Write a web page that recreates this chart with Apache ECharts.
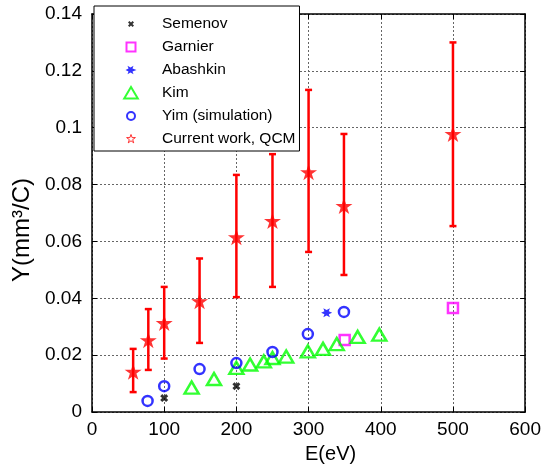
<!DOCTYPE html>
<html><head><meta charset="utf-8">
<script src="https://cdn.jsdelivr.net/npm/echarts@6/dist/echarts.min.js"></script>
<style>html,body{margin:0;padding:0;background:#fff}#c{width:544px;height:469px}</style>
</head><body><div id="c"></div>
<script>
// ---- data ----
const xTicks = [0, 100, 200, 300, 400, 500, 600];
const yTicks = [0, 0.02, 0.04, 0.06, 0.08, 0.1, 0.12, 0.14];

const semenovE = [100, 200];
const semenovY = [0.0049, 0.0091];

const garnierE = [350, 500];
const garnierY = [0.0253, 0.0366];

const abashkinE = [325];
const abashkinY = [0.0349];

const kimE = [138, 169, 200, 219, 238, 250, 269, 299, 320, 339, 368, 398];
const kimY = [0.0086, 0.0116, 0.0155, 0.0167, 0.0178, 0.0190, 0.0195, 0.0213, 0.0222, 0.0239, 0.0264, 0.0272];

const yimE = [77, 100, 149, 200, 250, 299, 349];
const yimY = [0.0039, 0.0091, 0.0151, 0.0172, 0.0211, 0.0274, 0.0352];

const qcmE    = [57, 78, 100, 149, 200, 250, 300, 349, 500];
const qcmY    = [0.0142, 0.0253, 0.0313, 0.0390, 0.0615, 0.0672, 0.0844, 0.0725, 0.0978];
const qcmLow  = [0.0070, 0.0148, 0.0188, 0.0243, 0.0404, 0.0440, 0.0563, 0.0482, 0.0654];
const qcmHigh = [0.0222, 0.0362, 0.0440, 0.0540, 0.0834, 0.0907, 0.1133, 0.0978, 0.1300];

const names = ['Semenov', 'Garnier', 'Abashkin', 'Kim', 'Yim (simulation)', 'Current work, QCM'];

// ---- symbols ----
const STAR = 'path://M50 0L61.2 34.5L97.6 34.5L68.2 55.9L79.4 90.5L50 69.1L20.6 90.5L31.8 55.9L2.4 34.5L38.8 34.5Z';
const XMARK = 'path://M0 2.6L2.6 0L5 2.4L7.4 0L10 2.6L7.6 5L10 7.4L7.4 10L5 7.6L2.6 10L0 7.4L2.4 5Z';
const ASTER = 'path://M0 5L3 3.6L2 0.8L5 2.4L8 0.8L7 3.6L10 5L7 6.4L8 9.2L5 7.6L2 9.2L3 6.4Z';

const ICON_X = 'path://M0 0M14 14M4 5.4L5.4 4L7 5.6L8.6 4L10 5.4L8.4 7L10 8.6L8.6 10L7 8.4L5.4 10L4 8.6L5.6 7Z';
const ICON_SQ = 'path://M0 0M14 14M2.5 2.5L11.5 2.5L11.5 11.5L2.5 11.5Z';
const ICON_AST = 'path://M0 0M14 14M1.5 7L4.5 5.6L3.5 2.8L6.5 4.4L9.5 2.8L8.5 5.6L12.5 7L8.5 8.4L9.5 11.2L6.5 9.6L3.5 11.2L4.5 8.4Z';
const ICON_TRI = 'path://M0 0M14 14M7 1L13.8 12.5L0.2 12.5Z';
const ICON_CIR = 'path://M0 0M14 14M3 7A4 4 0 1 1 11 7A4 4 0 1 1 3 7Z';
const ICON_STAR = 'path://M0 0M14 14M7 2.5L8.1 5.6L11.4 5.6L8.7 7.6L9.7 10.8L7 8.8L4.3 10.8L5.3 7.6L2.6 5.6L5.9 5.6Z';

const FONT = "'Liberation Sans', Arial, sans-serif";
const pairs = (xs, ys) => xs.map((x, i) => [x, ys[i]]);

const chart = echarts.init(document.getElementById('c'), null, {renderer: 'canvas'});

const axisCommon = {
  type: 'value',
  axisLine: {show: true, onZero: false, lineStyle: {color: '#000', width: 1.5}},
  axisTick: {show: true, inside: true, length: 5, lineStyle: {color: '#000', width: 1}},
};

const option = {
  animation: false,
  backgroundColor: '#fff',
  grid: {left: 92, right: 18, top: 14, bottom: 57, containLabel: false},
  xAxis: [
    Object.assign({}, axisCommon, {
      min: xTicks[0], max: xTicks[xTicks.length - 1], interval: 100, position: 'bottom',
      axisLabel: {color: '#000', fontSize: 19, fontFamily: FONT, margin: 8},
      splitLine: {show: true, lineStyle: {color: '#666', type: [2, 2], width: 1}},
      name: 'E(eV)', nameLocation: 'middle', nameGap: 32,
      nameTextStyle: {color: '#000', fontSize: 20, fontFamily: FONT, padding: [0, 0, 0, 44]}
    }),
    Object.assign({}, axisCommon, {
      min: xTicks[0], max: xTicks[xTicks.length - 1], interval: 100, position: 'top',
      axisLabel: {show: false}, splitLine: {show: false}
    })
  ],
  yAxis: [
    Object.assign({}, axisCommon, {
      min: yTicks[0], max: yTicks[yTicks.length - 1], interval: 0.02, position: 'left',
      axisLabel: {color: '#000', fontSize: 19, fontFamily: FONT, margin: 10},
      splitLine: {show: true, lineStyle: {color: '#666', type: [2, 2], width: 1}},
      name: 'Y(mm³/C)', nameLocation: 'middle', nameGap: 52,
      nameTextStyle: {color: '#000', fontSize: 24, fontFamily: FONT, padding: [0, 34, 0, 0]}
    }),
    Object.assign({}, axisCommon, {
      min: yTicks[0], max: yTicks[yTicks.length - 1], interval: 0.02, position: 'right',
      axisLabel: {show: false}, splitLine: {show: false}
    })
  ],
  legend: {
    orient: 'vertical', left: 94, top: 6,
    itemWidth: 52, itemHeight: 14, itemGap: 7,
    padding: [10, 4, 4, 29],
    borderColor: '#000', borderWidth: 1, backgroundColor: '#fff',
    symbolKeepAspect: true,
    selectedMode: false,
    textStyle: {color: '#000', fontSize: 15.5, fontFamily: FONT},
    data: [
      {name: names[0], icon: ICON_X, itemStyle: {color: '#000', borderWidth: 0}},
      {name: names[1], icon: ICON_SQ, itemStyle: {color: 'rgba(0,0,0,0)', borderColor: '#ff00ff', borderWidth: 2}},
      {name: names[2], icon: ICON_AST, itemStyle: {color: '#0000ff', borderWidth: 0}},
      {name: names[3], icon: ICON_TRI, itemStyle: {color: 'rgba(0,0,0,0)', borderColor: '#00ff00', borderWidth: 2}},
      {name: names[4], icon: ICON_CIR, itemStyle: {color: 'rgba(0,0,0,0)', borderColor: '#0000ff', borderWidth: 2}},
      {name: names[5], icon: ICON_STAR, itemStyle: {color: 'rgba(0,0,0,0)', borderColor: '#ff0000', borderWidth: 1}}
    ]
  },
  series: [
    {name: names[0], type: 'scatter', data: pairs(semenovE, semenovY),
     symbol: XMARK, symbolSize: 8, itemStyle: {color: '#000'}},
    {name: names[1], type: 'scatter', data: pairs(garnierE, garnierY),
     symbol: 'rect', symbolSize: 10,
     itemStyle: {color: 'rgba(0,0,0,0)', borderColor: '#ff00ff', borderWidth: 2.5}},
    {name: names[2], type: 'scatter', data: pairs(abashkinE, abashkinY),
     symbol: ASTER, symbolSize: [11, 9], itemStyle: {color: '#0000ff'}},
    {name: names[3], type: 'scatter', data: pairs(kimE, kimY),
     symbol: 'triangle', symbolSize: [14, 12],
     itemStyle: {color: 'rgba(0,0,0,0)', borderColor: '#00ff00', borderWidth: 2.5}},
    {name: names[4], type: 'scatter', data: pairs(yimE, yimY),
     symbol: 'circle', symbolSize: 10,
     itemStyle: {color: 'rgba(0,0,0,0)', borderColor: '#0000ff', borderWidth: 2.5}},
    {name: 'QCM error', type: 'custom',
     data: qcmE.map((e, i) => [e, qcmLow[i], qcmHigh[i]]),
     encode: {x: 0, y: [1, 2]},
     renderItem: function (params, api) {
       const x = api.value(0);
       const pLo = api.coord([x, api.value(1)]);
       const pHi = api.coord([x, api.value(2)]);
       const cap = 3.5;
       const style = {stroke: '#ff0000', lineWidth: 2.5, fill: null};
       return {type: 'group', children: [
         {type: 'line', shape: {x1: pLo[0], y1: pLo[1], x2: pHi[0], y2: pHi[1]}, style: style},
         {type: 'line', shape: {x1: pLo[0] - cap, y1: pLo[1], x2: pLo[0] + cap, y2: pLo[1]}, style: style},
         {type: 'line', shape: {x1: pHi[0] - cap, y1: pHi[1], x2: pHi[0] + cap, y2: pHi[1]}, style: style}
       ]};
     }},
    {name: names[5], type: 'scatter', data: pairs(qcmE, qcmY),
     symbol: STAR, symbolSize: 17, symbolKeepAspect: true,
     itemStyle: {color: '#ff0000'}, z: 5}
  ]
};
chart.setOption(option);
</script>
</body></html>
